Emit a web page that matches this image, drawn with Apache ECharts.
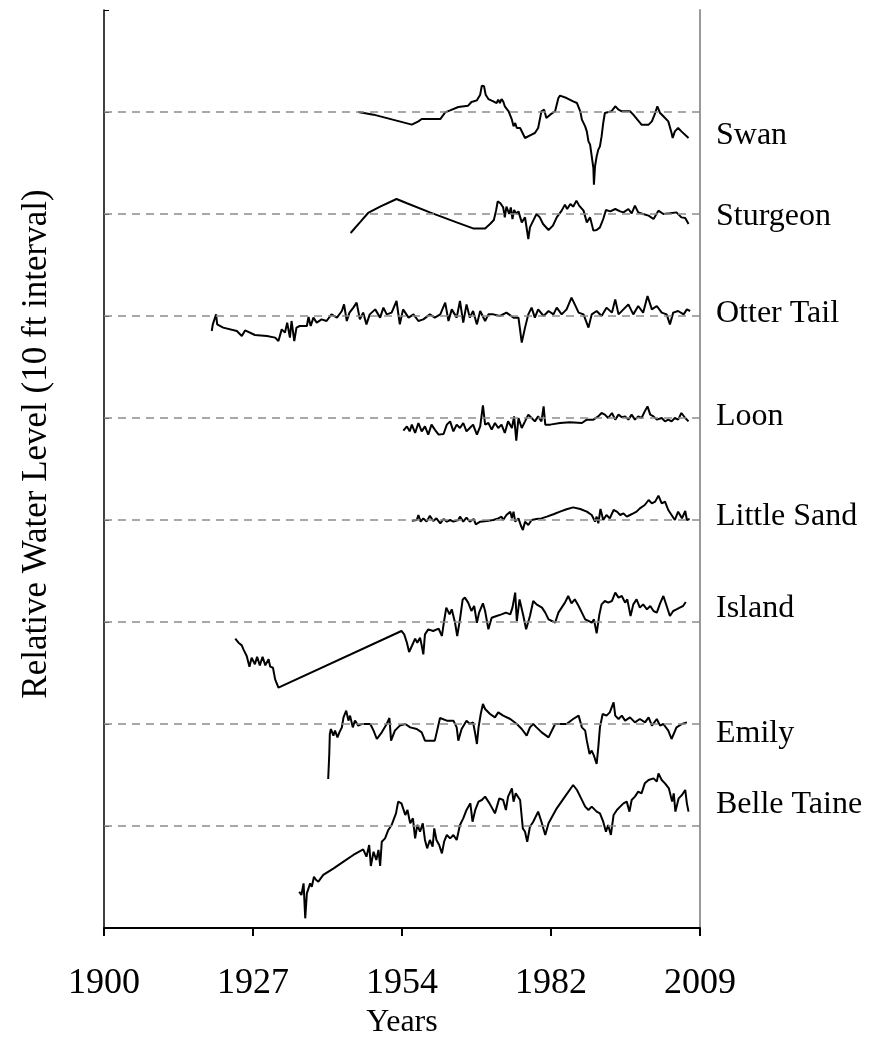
<!DOCTYPE html>
<html>
<head>
<meta charset="utf-8">
<title>Relative Water Level</title>
<script src="https://cdn.jsdelivr.net/npm/echarts@6/dist/echarts.min.js"></script>
<style>
  html, body { margin: 0; padding: 0; background: #fff; }
  #chart { width: 885px; height: 1038px; }
</style>
</head>
<body>
<div id="chart"></div>
<script>
// lake water levels, [year, ft above/below the lake's reference line]
var lakeNames = ['Swan', 'Sturgeon', 'Otter Tail', 'Loon', 'Little Sand', 'Island', 'Emily', 'Belle Taine'];
var baselines = [80, 70, 60, 50, 40, 30, 20, 10];
var labelLevels = [77.7, 69.7, 60.2, 50.1, 40.3, 31.3, 19.1, 12.1];

var xTickValues = [1900, 1927.25, 1954.5, 1981.75, 2009];
var xTickLabels = ['1900', '1927', '1954', '1982', '2009'];

var swan = [[1946.5,0],[1949.3,-0.26],[1956.3,-1.24],[1957.5,-0.92],[1958.1,-0.69],[1961.5,-0.69],[1961.8,-0.85],[1962.4,-0.03],[1963.3,0.16],[1964.8,0.49],[1966.6,0.62],[1967.2,0.98],[1967.5,0.88],[1968.2,1.14],[1968.8,1.7],[1969.1,2.58],[1969.5,2.52],[1969.8,1.7],[1970.3,1.27],[1971.2,1.05],[1971.8,0.88],[1972.1,1.21],[1972.4,0.88],[1972.7,1.27],[1973.0,1.05],[1973.3,0.56],[1974.0,0.07],[1974.6,-0.75],[1974.9,-1.41],[1975.2,-1.08],[1975.5,-1.57],[1976.1,-1.57],[1977.0,-2.55],[1977.3,-2.65],[1978.2,-2.22],[1978.8,-2.06],[1979.4,-1.57],[1980.0,0.07],[1980.5,0.23],[1980.9,-0.59],[1981.6,-0.26],[1982.5,0.07],[1982.8,0.23],[1983.1,1.37],[1983.4,1.6],[1984.6,1.37],[1985.8,1.05],[1986.5,0.88],[1987.1,0.07],[1987.4,-0.75],[1988.0,-1.41],[1988.3,-1.9],[1988.6,-2.88],[1988.9,-3.2],[1989.2,-4.35],[1989.5,-5.49],[1989.6,-7.12],[1989.8,-5.33],[1990.1,-4.35],[1990.4,-3.69],[1990.7,-3.37],[1991.0,-2.39],[1991.3,-1.08],[1991.6,-0.1],[1991.9,0.07],[1992.8,0.07],[1993.5,0.56],[1994.1,0.23],[1994.7,0.07],[1996.2,0.07],[1996.8,-0.26],[1998.3,-1.24],[1999.6,-1.24],[2000.2,-0.92],[2000.8,-0.1],[2001.2,0.56],[2001.7,-0.1],[2002.3,-0.42],[2003.2,-0.92],[2003.8,-2.06],[2004.0,-2.55],[2004.4,-1.9],[2005.0,-1.57],[2005.6,-1.9],[2006.9,-2.55]];

var sturgeon = [[1945.1,-1.86],[1946.8,-0.82],[1948.3,0.1],[1950.5,0.72],[1953.5,1.47],[1955.4,1.05],[1959.6,0.16],[1964.5,-0.82],[1967.5,-1.41],[1969.7,-1.41],[1970.6,-0.98],[1971.3,-0.59],[1971.7,0.33],[1972.0,1.24],[1972.5,1.05],[1973.0,0.65],[1973.3,-0.33],[1973.6,0.72],[1974.1,0],[1974.4,0.65],[1974.7,-0.49],[1975.0,0.39],[1975.5,0],[1975.8,0.26],[1976.4,-0.82],[1977.0,-0.33],[1977.6,-2.45],[1977.9,-1.31],[1978.5,-0.65],[1979.1,0],[1979.7,-0.33],[1980.3,-0.98],[1981.3,-1.57],[1982.1,-1.14],[1982.8,-0.33],[1983.7,0.33],[1984.3,0.92],[1984.7,0.49],[1985.3,0.98],[1985.8,0.72],[1986.4,1.31],[1986.9,0.82],[1987.7,0.33],[1988.3,-0.82],[1988.9,-0.33],[1989.5,-1.63],[1990.1,-1.57],[1990.7,-1.31],[1991.3,-0.49],[1991.8,0.39],[1992.6,0.26],[1993.5,0.49],[1994.4,0.26],[1995.0,0.16],[1995.9,0.49],[1996.5,0.07],[1997.1,0.82],[1997.7,0.16],[1998.6,0],[1999.6,-0.16],[2000.5,-0.49],[2001.4,0.33],[2002.3,0],[2003.5,0.07],[2004.7,0.16],[2005.6,-0.33],[2006.3,-0.39],[2006.9,-0.98]];

var otterTail = [[1919.7,-1.47],[1919.9,-0.82],[1920.5,0.16],[1920.7,-0.82],[1921.8,-1.14],[1924.3,-1.47],[1925.2,-1.96],[1925.8,-1.41],[1927.6,-1.86],[1929.8,-1.96],[1931.3,-2.12],[1931.9,-2.45],[1932.5,-1.31],[1933.1,-1.63],[1933.5,-0.65],[1934.0,-2.12],[1934.3,-0.49],[1934.8,-2.45],[1935.2,-1.14],[1935.8,-0.98],[1937.1,-0.98],[1937.4,-0.1],[1937.8,-0.98],[1938.3,-0.16],[1938.9,-0.65],[1939.8,-0.33],[1940.7,-0.49],[1941.6,0.16],[1942.6,-0.16],[1943.5,0.49],[1943.9,1.14],[1944.4,-0.49],[1944.9,0.33],[1945.6,0.82],[1946.2,1.31],[1946.8,-0.33],[1947.4,0.33],[1948.0,-0.82],[1948.6,0.16],[1949.6,0.65],[1950.5,-0.16],[1951.1,0.82],[1951.7,0.16],[1952.6,0.33],[1953.5,1.47],[1954.1,-0.82],[1954.7,0.65],[1955.7,-0.16],[1956.6,0.16],[1957.5,-0.49],[1958.4,-0.33],[1959.6,0.16],[1960.5,-0.16],[1961.5,0.16],[1962.4,1.31],[1963.0,-0.49],[1963.6,0.65],[1964.5,-0.16],[1965.1,1.47],[1965.7,-0.65],[1966.3,1.14],[1966.9,-0.16],[1967.5,0.49],[1968.2,-0.82],[1968.8,0.49],[1969.7,-0.49],[1970.3,0.16],[1971.2,0.16],[1972.4,0],[1973.6,0.33],[1974.9,-0.16],[1975.8,-0.16],[1976.4,-2.61],[1977.0,-1.14],[1977.6,0.16],[1978.2,0.82],[1978.8,-0.16],[1979.4,0.65],[1980.4,0],[1981.3,0.49],[1982.2,0.16],[1982.8,0.82],[1983.7,0.16],[1984.6,0.65],[1985.5,1.8],[1986.1,1.14],[1986.8,0.33],[1987.7,0.16],[1988.6,-1.14],[1989.2,0.16],[1990.1,0.49],[1991.0,0],[1991.9,0.82],[1992.9,0.33],[1993.5,1.63],[1994.1,0.16],[1995.0,0.65],[1995.9,1.14],[1996.8,0.16],[1997.7,0.98],[1998.6,0.33],[1999.4,1.96],[2000.2,0.65],[2001.1,0.98],[2002.0,0.33],[2002.9,0.16],[2003.5,-0.82],[2004.1,0.33],[2005.0,0.49],[2006.0,0.16],[2006.6,0.65],[2007.2,0.49]];

var loon = [[1954.75,-1.24],[1955.4,-0.82],[1955.9,-1.31],[1956.3,-0.65],[1956.9,-1.47],[1957.5,-0.49],[1958.1,-1.31],[1958.7,-0.82],[1959.3,-1.63],[1959.9,-0.65],[1960.5,-1.14],[1961.2,-1.63],[1962.1,-1.57],[1962.7,-0.65],[1963.3,-0.33],[1963.9,-1.31],[1964.5,-0.65],[1965.1,-0.98],[1965.7,-0.49],[1966.3,-1.31],[1966.9,-0.98],[1967.5,-0.65],[1968.2,-1.63],[1968.8,-0.82],[1969.3,1.24],[1969.7,-0.65],[1970.3,-0.49],[1970.9,-1.14],[1971.5,-0.49],[1972.1,-0.98],[1972.7,-0.65],[1973.3,-1.47],[1973.9,-0.33],[1974.6,-0.98],[1975.0,0.16],[1975.4,-2.22],[1975.8,0],[1976.4,-0.98],[1977.0,-0.33],[1977.6,0.33],[1978.2,0],[1978.8,-0.33],[1979.4,0.16],[1980.0,-0.33],[1980.4,1.14],[1980.7,-0.65],[1981.6,-0.65],[1983.4,-0.49],[1985.2,-0.42],[1987.4,-0.49],[1988.3,-0.16],[1989.5,-0.16],[1990.4,0.16],[1991.0,0.49],[1991.6,0.33],[1992.2,0],[1992.9,0.49],[1993.5,-0.16],[1994.1,0.33],[1994.7,0.07],[1995.3,0.16],[1995.9,-0.16],[1996.5,0.33],[1997.1,-0.16],[1997.7,0.16],[1998.3,0],[1998.9,0.65],[1999.4,1.14],[1999.9,0.33],[2000.5,0.16],[2001.1,-0.16],[2002.0,0],[2002.6,-0.33],[2003.2,-0.16],[2003.8,-0.33],[2004.4,0],[2005.0,-0.16],[2005.6,0.49],[2006.3,0],[2006.9,-0.33]];

var littleSand = [[1956.3,-0.07],[1957.2,0],[1957.5,0.49],[1957.9,-0.16],[1958.4,0.16],[1959.0,-0.16],[1959.6,0.42],[1960.2,-0.1],[1960.8,0.16],[1961.5,-0.33],[1962.1,0.1],[1962.7,-0.16],[1963.3,0],[1963.9,-0.16],[1964.8,0],[1965.1,0.33],[1965.7,-0.16],[1966.3,0.23],[1966.9,-0.16],[1967.6,0.1],[1968.0,-0.42],[1968.8,-0.16],[1970.0,-0.1],[1971.2,0],[1972.1,0.16],[1972.7,0.33],[1973.0,0],[1973.6,0.49],[1974.3,0.82],[1974.6,0.16],[1974.9,0.82],[1975.2,-0.16],[1975.8,0.16],[1976.2,-0.49],[1976.6,-0.98],[1977.0,-0.16],[1977.6,-0.49],[1978.2,0],[1979.1,0.1],[1980.0,0.16],[1981.0,0.33],[1982.2,0.56],[1983.4,0.82],[1984.6,1.05],[1985.8,1.24],[1987.1,1.08],[1988.3,0.82],[1989.2,0.49],[1989.8,-0.16],[1990.1,0.33],[1990.4,-0.33],[1990.8,1.08],[1991.3,0],[1991.9,0.49],[1992.5,0.16],[1993.2,0.98],[1993.8,0.82],[1994.4,0.49],[1995.0,0.65],[1995.6,0.33],[1996.2,0.49],[1996.8,0.65],[1997.4,0.82],[1998.0,1.14],[1998.9,1.47],[1999.6,1.96],[2000.2,1.63],[2000.8,1.8],[2001.4,2.39],[2002.0,1.63],[2002.6,1.8],[2003.2,0.98],[2003.8,0.49],[2004.4,0],[2005.0,0.82],[2005.7,0.16],[2006.3,0.88],[2006.6,0],[2007.1,0.1]];

var island = [[1924.0,-1.63],[1924.6,-2.03],[1925.2,-2.29],[1925.5,-2.68],[1926.1,-3.33],[1926.6,-4.38],[1927.0,-3.5],[1927.6,-4.15],[1928.0,-3.4],[1928.5,-4.25],[1929.0,-3.4],[1929.5,-4.25],[1930.1,-3.66],[1930.4,-4.38],[1930.9,-4.48],[1931.3,-5.62],[1931.9,-6.44],[1954.4,-0.88],[1954.9,-1.21],[1955.4,-2.03],[1955.8,-2.94],[1956.3,-2.35],[1956.9,-1.63],[1957.3,-2.03],[1957.8,-1.54],[1958.1,-2.29],[1958.4,-3.17],[1958.7,-1.21],[1959.3,-0.72],[1960.2,-0.88],[1961.2,-0.65],[1961.8,-1.37],[1962.2,0.1],[1962.6,1.41],[1963.2,0.75],[1963.6,1.24],[1964.2,-0.07],[1964.6,-1.37],[1965.1,0.26],[1965.6,2.21],[1966.0,2.39],[1966.6,1.9],[1967.2,1.08],[1967.7,1.57],[1968.2,-0.07],[1968.6,0.92],[1969.3,1.83],[1969.7,1.08],[1970.3,-0.72],[1970.9,0.42],[1971.8,0.59],[1972.7,0.75],[1973.5,0.92],[1974.3,0.75],[1974.7,1.41],[1975.2,2.88],[1975.5,0.1],[1976.0,2.22],[1976.7,0.59],[1977.2,-0.72],[1977.9,0.59],[1978.5,2.06],[1979.1,1.73],[1980.1,1.41],[1980.7,0.92],[1981.3,0.26],[1981.9,0.1],[1982.5,-0.07],[1983.1,0.92],[1983.7,1.41],[1984.3,1.9],[1984.9,2.55],[1985.5,1.83],[1986.1,2.22],[1986.8,1.57],[1987.4,0.92],[1988.0,0.26],[1988.6,0.1],[1989.2,-0.07],[1989.6,0.26],[1990.1,-1.11],[1990.6,0.75],[1991.0,1.73],[1991.6,2.06],[1992.2,1.9],[1992.9,2.06],[1993.5,2.88],[1994.1,2.39],[1994.7,2.55],[1995.3,1.9],[1995.7,2.22],[1996.3,0.59],[1996.8,1.73],[1997.4,2.22],[1998.0,1.41],[1998.6,1.73],[1999.3,1.24],[1999.9,1.57],[2000.5,1.08],[2001.1,0.92],[2001.7,1.83],[2002.3,2.55],[2002.9,1.57],[2003.5,0.59],[2004.1,1.08],[2004.7,1.24],[2005.3,1.41],[2005.9,1.57],[2006.4,1.96]];

var emily = [[1941.0,-5.39],[1941.2,-2.94],[1941.3,-0.98],[1941.5,-0.49],[1941.95,-1.14],[1942.25,-0.65],[1942.7,-1.31],[1943.05,-0.82],[1943.5,-0.33],[1943.8,0.65],[1944.3,1.31],[1944.7,0.33],[1945.0,0.82],[1945.5,-0.33],[1945.9,0.33],[1946.5,-0.16],[1947.1,0],[1948.7,0],[1949.3,-0.65],[1949.9,-1.47],[1950.8,-0.82],[1951.7,0],[1952.2,0.59],[1952.5,-1.63],[1953.2,-0.65],[1954.1,-0.16],[1955.1,0],[1956.0,-0.33],[1957.2,-0.49],[1958.1,-0.82],[1958.7,-1.63],[1960.5,-1.63],[1960.85,-0.82],[1961.45,0.59],[1962.7,0.33],[1963.9,0.33],[1964.5,-0.33],[1964.8,-1.63],[1965.4,-0.49],[1966.3,0.33],[1966.9,0],[1967.5,0.16],[1967.9,-0.98],[1968.2,-1.96],[1968.5,-0.33],[1968.9,0.98],[1969.3,1.96],[1969.7,1.47],[1970.6,0.98],[1971.5,0.65],[1972.1,1.14],[1973.0,0.82],[1974.3,0.49],[1975.5,0],[1976.4,-0.49],[1977.3,-1.14],[1977.9,-0.33],[1978.5,0],[1979.1,-0.33],[1980.05,-0.82],[1981.3,-1.31],[1982.5,0],[1984.6,0],[1985.8,0.49],[1986.8,0.82],[1987.4,-0.33],[1988.0,-0.65],[1988.3,-1.63],[1988.8,-2.94],[1989.2,-2.61],[1989.6,-3.1],[1990.1,-3.92],[1990.4,-2.29],[1990.7,-0.33],[1991.2,0.98],[1991.9,0.82],[1992.5,1.14],[1993.2,2.12],[1993.5,0.82],[1994.1,0.49],[1994.7,0.82],[1995.3,0.33],[1996.2,0.65],[1997.1,0.16],[1998.0,0.49],[1998.95,0.16],[1999.6,0.65],[2000.2,-0.16],[2001.1,0.49],[2001.7,-0.16],[2002.3,0],[2003.2,-0.65],[2003.8,-1.47],[2004.7,-0.33],[2005.7,0],[2006.6,0.16]];

var belleTaine = [[1935.7,-6.44],[1936.1,-6.76],[1936.5,-5.62],[1936.8,-9.05],[1937.1,-6.6],[1937.4,-6.11],[1937.7,-5.62],[1938.0,-5.95],[1938.4,-4.97],[1938.8,-5.29],[1939.2,-5.46],[1940.1,-4.8],[1942.0,-4.15],[1943.8,-3.5],[1945.6,-2.84],[1947.4,-2.29],[1948.0,-3.01],[1948.5,-1.86],[1948.8,-3.92],[1949.3,-2.52],[1949.8,-3.33],[1950.2,-2.35],[1950.5,-3.92],[1950.8,-1.54],[1951.4,-1.21],[1952.0,-0.39],[1952.6,0.1],[1953.4,1.24],[1953.8,2.39],[1954.4,2.22],[1955.1,1.08],[1955.5,1.57],[1956.0,0.26],[1956.5,0.75],[1956.9,-1.21],[1957.3,0.1],[1957.8,-0.56],[1958.3,0.26],[1958.7,-1.37],[1959.1,-2.19],[1959.6,-1.37],[1960.1,-2.03],[1960.4,-0.23],[1960.8,-1.37],[1961.3,-1.86],[1961.8,-2.68],[1962.2,-1.54],[1962.7,-0.88],[1963.3,-1.21],[1963.9,-0.88],[1964.5,-1.37],[1965.1,0.1],[1965.7,0.75],[1966.3,1.57],[1967.0,2.22],[1967.4,0.42],[1967.9,1.57],[1968.5,2.39],[1969.1,2.55],[1969.7,2.88],[1970.5,2.22],[1971.5,1.24],[1972.3,2.71],[1973.0,2.55],[1973.5,1.57],[1973.9,2.88],[1974.6,3.69],[1974.9,2.39],[1975.3,3.2],[1976.1,2.55],[1976.6,-0.23],[1977.0,-0.56],[1977.4,-1.54],[1977.9,-0.07],[1978.5,0.42],[1979.4,1.41],[1980.0,0.42],[1980.7,-0.88],[1981.3,0.26],[1982.8,1.73],[1984.3,2.88],[1985.8,4.02],[1986.5,3.53],[1987.1,2.88],[1988.0,1.9],[1988.6,1.57],[1989.2,1.9],[1990.1,1.41],[1990.7,1.24],[1991.3,0.42],[1991.8,-0.56],[1992.2,0.1],[1992.7,-0.88],[1993.2,1.08],[1993.8,1.57],[1994.4,1.9],[1995.0,2.22],[1995.6,2.39],[1996.1,1.41],[1996.5,2.55],[1997.1,2.88],[1997.7,3.37],[1998.3,3.2],[1998.9,4.18],[1999.6,4.51],[2000.5,4.67],[2001.1,4.35],[2001.4,5.16],[2002.0,4.51],[2002.6,4.18],[2003.3,3.69],[2003.9,2.39],[2004.2,3.2],[2004.5,1.41],[2005.1,2.71],[2005.7,3.04],[2006.3,3.53],[2006.6,2.22],[2006.9,1.41]];

var lakes = [swan, sturgeon, otterTail, loon, littleSand, island, emily, belleTaine];
</script>
<script>
var chart = echarts.init(document.getElementById('chart'));
var serif = "'Liberation Serif', 'Times New Roman', serif";

// one line per lake, shifted up onto its own dashed reference level
var series = lakes.map(function (pts, i) {
    var base = baselines[i];
    return {
        name: lakeNames[i],
        type: 'line',
        symbol: 'none',
        data: pts.map(function (p) { return [p[0], base + p[1]]; }),
        lineStyle: { color: '#000', width: 2 },
        markLine: {
            silent: true,
            symbol: ['none', 'none'],
            label: { show: false },
            lineStyle: { color: '#8c8c8c', type: [8, 6], width: 1.5 },
            data: [{ yAxis: base }]
        },
        z: 3
    };
});

// lake names to the right of the frame
series.push({
    type: 'scatter',
    symbolSize: 0,
    silent: true,
    data: lakeNames.map(function (n, i) { return [2009, labelLevels[i], n]; }),
    label: {
        show: true,
        position: 'right',
        distance: 16,
        formatter: function (p) { return p.data[2]; },
        color: '#000',
        opacity: 1,
        fontFamily: serif,
        fontSize: 32
    },
    z: 5
});

var option = {
    animation: false,
    backgroundColor: '#fff',
    grid: { left: 104, right: 185, top: 10, bottom: 110, outerBoundsMode: 'none', containLabel: false },
    xAxis: {
        type: 'value',
        min: 1900,
        max: 2009,
        offset: 4,
        name: 'Years',
        nameLocation: 'middle',
        nameGap: 72,
        nameTextStyle: { color: '#000', fontFamily: serif, fontSize: 32 },
        axisLine: { lineStyle: { color: '#000', width: 2 } },
        axisTick: { customValues: xTickValues, length: 8, lineStyle: { color: '#000', width: 2 } },
        axisLabel: {
            customValues: xTickValues,
            margin: 34,
            color: '#000',
            fontFamily: serif,
            fontSize: 36,
            formatter: function (v) {
                var i = xTickValues.indexOf(v);
                return i >= 0 ? xTickLabels[i] : '';
            }
        },
        splitLine: { show: false }
    },
    yAxis: [{
        type: 'value',
        min: 0,
        max: 90,
        interval: 10,
        name: 'Relative Water Level (10 ft interval)',
        nameLocation: 'middle',
        nameGap: 50,
        nameTextStyle: { color: '#000', fontFamily: serif, fontSize: 35, padding: [0, 0, 0, 50] },
        axisLine: { show: true, lineStyle: { color: '#000', width: 1.5 } },
        axisTick: { show: true, inside: true, length: 5, lineStyle: { color: '#000' } },
        axisLabel: { show: false },
        splitLine: { show: false }
    }, {
        type: 'value',
        position: 'right',
        min: 0,
        max: 90,
        axisLine: { show: true, lineStyle: { color: '#999', width: 2 } },
        axisTick: { show: false },
        axisLabel: { show: false },
        splitLine: { show: false }
    }],
    series: series
};
chart.setOption(option);
</script>
</body>
</html>
